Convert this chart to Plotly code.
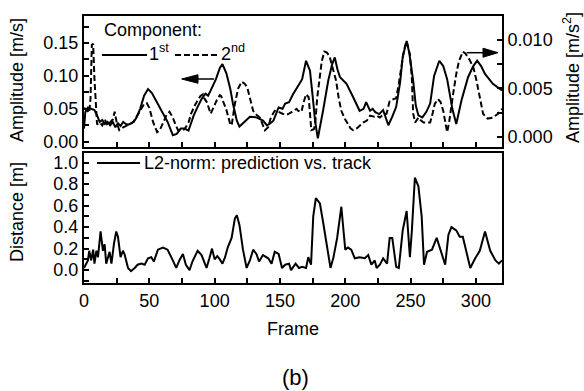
import plotly.graph_objects as go

# ---------------- data ----------------
frames_1st = [0, 1, 3, 6, 8, 10, 12, 14, 16, 18, 20, 22, 24, 26, 28, 30, 32, 34, 36, 38,
              40, 43, 46, 49, 52, 56, 60, 64, 68, 71, 74, 77, 80, 84, 87, 90, 93, 95, 97,
              101, 104, 106, 109, 112, 114, 117, 119, 123, 127, 132, 137, 140, 142, 145,
              149, 152, 154, 157, 160, 164, 167, 170, 173, 175, 177, 179, 181, 183, 187,
              190, 192, 194, 196, 201, 206, 209, 211, 214, 216, 219, 221, 223, 226, 229,
              231, 233, 236, 239, 242, 244, 247, 249, 252, 254, 256, 259, 262, 265, 268,
              272, 275, 278, 282, 285, 289, 294, 298, 301, 304, 307, 313, 320]
amp_1st = [0.020, 0.045, 0.052, 0.050, 0.048, 0.040, 0.030, 0.033, 0.027, 0.030, 0.025,
           0.030, 0.022, 0.028, 0.024, 0.030, 0.027, 0.026, 0.028, 0.030, 0.036, 0.050,
           0.070, 0.080, 0.074, 0.060, 0.045, 0.030, 0.010, 0.012, 0.020, 0.020, 0.017,
           0.040, 0.053, 0.065, 0.073, 0.070, 0.078, 0.095, 0.112, 0.118, 0.104, 0.080,
           0.058, 0.032, 0.023, 0.030, 0.038, 0.037, 0.032, 0.025, 0.027, 0.032, 0.052,
           0.050, 0.058, 0.060, 0.072, 0.085, 0.095, 0.123, 0.108, 0.070, 0.030, 0.005,
           0.025, 0.047, 0.093, 0.118, 0.128, 0.110, 0.098, 0.088, 0.068, 0.055, 0.047,
           0.050, 0.060, 0.047, 0.050, 0.045, 0.042, 0.048, 0.035, 0.025, 0.038, 0.053,
           0.090, 0.129, 0.153, 0.135, 0.093, 0.055, 0.040, 0.037, 0.045, 0.058, 0.100,
           0.123, 0.115, 0.095, 0.050, 0.027, 0.063, 0.098, 0.115, 0.123, 0.115, 0.103,
           0.088, 0.078]

frames_2nd = [0, 2, 4, 5, 6, 7, 8, 9, 10, 12, 14, 16, 18, 20, 22, 23.5, 25, 27, 30, 33,
              35, 38, 40, 43, 46, 48, 50, 53, 56, 58, 60, 63, 65.5, 68, 70, 72, 75, 77,
              80, 82, 85, 87, 89, 91, 92, 94, 96, 97, 99, 102, 104, 105, 107, 109, 112,
              113, 115.5, 118, 120.7, 123, 125, 127, 129.5, 132, 134.6, 137, 138.5, 141,
              143, 146, 149, 152, 155, 157, 160, 162.7, 164, 166.5, 168, 170, 172, 173,
              174, 176, 177, 178.5, 180.6, 182, 184, 186, 188, 190, 193, 195, 197, 200,
              202, 204, 206, 209, 211.5, 214, 216.6, 219, 222, 224, 226.5, 229, 231.6,
              234, 237, 239, 241, 243, 245, 247, 249.5, 251, 252, 253.5, 256, 258, 260,
              263, 265, 267, 268.5, 271, 273, 275, 277, 278, 279.5, 281, 283, 285, 287,
              290, 292, 295, 298, 300.5, 303, 305.5, 309, 313, 317, 320]
amp_2nd = [0.0030, 0.0028, 0.0025, 0.0040, 0.0095, 0.0096, 0.0060, 0.0030, 0.0013,
           0.0015, 0.0012, 0.0018, 0.0012, 0.0015, 0.0018, 0.0026, 0.0015, 0.0007,
           0.0010, 0.0012, 0.0013, 0.0016, 0.0020, 0.0027, 0.0034, 0.0035, 0.0030,
           0.0015, 0.0005, 0.0007, 0.0013, 0.0022, 0.0026, 0.0020, 0.0013, 0.0007,
           0.0007, 0.0008, 0.0015, 0.0024, 0.0033, 0.0037, 0.0042, 0.0044, 0.0040,
           0.0036, 0.0028, 0.0024, 0.0030, 0.0039, 0.0043, 0.0042, 0.0035, 0.0028,
           0.0013, 0.0012, 0.0034, 0.0050, 0.0057, 0.0055, 0.0051, 0.0040, 0.0027,
           0.0023, 0.0020, 0.0012, 0.0007, 0.0010, 0.0020, 0.0027, 0.0026, 0.0024,
           0.0023, 0.0024, 0.0027, 0.0029, 0.0027, 0.0026, 0.0035, 0.0044, 0.0041,
           0.0020, 0.0007, 0.0008, 0.0013, 0.0040, 0.0065, 0.0078, 0.0088, 0.0087,
           0.0083, 0.0072, 0.0058, 0.0040, 0.0027, 0.0018, 0.0013, 0.0009, 0.0007,
           0.0009, 0.0012, 0.0015, 0.0017, 0.0022, 0.0021, 0.0022, 0.0020, 0.0023,
           0.0024, 0.0037, 0.0039, 0.0040, 0.0055, 0.0075, 0.0090, 0.0099, 0.0085,
           0.0060, 0.0024, 0.0015, 0.0020, 0.0017, 0.0015, 0.0015, 0.0015, 0.0025,
           0.0034, 0.0039, 0.0036, 0.0027, 0.0010, 0.0005, 0.0015, 0.0031, 0.0048,
           0.0065, 0.0078, 0.0088, 0.0086, 0.0080, 0.0072, 0.0058, 0.0040, 0.0024,
           0.0019, 0.0020, 0.0024, 0.0029]

frames_l2 = [0, 2, 3, 4, 5.5, 7, 8, 9.5, 10.7, 12.7, 14.5, 15.8, 17, 19.6, 21, 23, 24.7,
             26, 28, 29.8, 31, 33.7, 36, 38.8, 41, 44, 46.4, 49, 51.5, 53.5, 56.6, 60.4,
             64, 68, 70.6, 73, 75.7, 78, 80.8, 83, 87, 90, 93.8, 96, 98, 100, 102, 104,
             106, 108, 110, 113, 115.5, 117, 119, 121.7, 124.5, 127, 129.5, 132, 134,
             137, 141, 143.6, 146, 149, 151.6, 154, 157, 158.5, 162, 164.6, 167, 170,
             171.7, 173.8, 175.5, 177.5, 180.6, 183, 186, 188.7, 191, 193.8, 197, 200,
             202, 204.6, 207.3, 211, 215, 217.6, 220, 222.6, 224, 226.5, 229, 232, 234,
             236, 239, 241, 244, 247, 249.5, 251, 253.3, 256, 258.5, 260.3, 262.6,
             266.4, 270, 273, 276.5, 279, 281.3, 285, 287.6, 290, 295.7, 299.5, 303,
             307, 311, 315, 317.6, 320]
dist_l2 = [0.02, 0.06, 0.09, 0.18, 0.09, 0.19, 0.06, 0.18, 0.12, 0.36, 0.18, 0.24, 0.06,
           0.17, 0.06, 0.25, 0.36, 0.31, 0.12, 0.18, 0.15, 0.02, -0.01, 0.02, 0.05, 0.06,
           0.05, 0.11, 0.12, 0.08, 0.19, 0.21, 0.19, 0.09, 0.02, 0.09, 0.15, 0.05, 0.00,
           0.08, 0.18, 0.14, 0.02, 0.11, 0.20, 0.10, 0.13, 0.10, 0.06, 0.12, 0.21, 0.30,
           0.48, 0.51, 0.42, 0.19, 0.02, 0.09, 0.19, 0.15, 0.08, 0.14, 0.11, 0.06, 0.17,
           0.15, 0.02, 0.05, 0.06, 0.00, 0.06, 0.02, 0.03, 0.02, 0.12, 0.05, 0.50, 0.67,
           0.62, 0.45, 0.21, 0.02, 0.12, 0.30, 0.59, 0.19, 0.21, 0.19, 0.11, 0.12, 0.11,
           0.14, 0.05, 0.09, 0.02, 0.05, 0.11, 0.06, 0.30, 0.30, 0.03, 0.02, 0.37, 0.55,
           0.12, 0.37, 0.86, 0.78, 0.50, 0.05, 0.17, 0.19, 0.30, 0.18, 0.05, 0.33, 0.40,
           0.37, 0.31, 0.31, 0.02, 0.11, 0.18, 0.36, 0.18, 0.09, 0.06, 0.09]

FONT = "Liberation Sans, Arial, sans-serif"

fig = go.Figure()
fig.add_trace(go.Scatter(x=frames_1st, y=amp_1st, mode="lines", xaxis="x2", yaxis="y2",
                         line=dict(color="black", width=2), showlegend=False))
fig.add_trace(go.Scatter(x=frames_2nd, y=amp_2nd, mode="lines", xaxis="x2", yaxis="y3",
                         line=dict(color="black", width=2, dash="6px,3px"), showlegend=False))
fig.add_trace(go.Scatter(x=frames_l2, y=dist_l2, mode="lines", xaxis="x", yaxis="y",
                         line=dict(color="black", width=2), showlegend=False))

axis_common = dict(showline=True, linecolor="black", linewidth=2, ticks="inside",
                   ticklen=5, tickwidth=1.5, tickcolor="black", showgrid=False,
                   zeroline=False, tickfont=dict(size=18, color="black", family=FONT))

TOP = [0.5094, 1.0]
BOT = [0.0, 0.4869]
Y2_RANGE = [-0.008, 0.191]
Y3_RANGE = [-0.00103, 0.01247]

fig.update_layout(
    width=584, height=391,
    margin=dict(l=84, r=82, t=16, b=108),
    paper_bgcolor="white", plot_bgcolor="white",
    font=dict(family=FONT, size=18, color="black"),
    xaxis=dict(**axis_common, domain=[0, 1], anchor="y", range=[0, 320], tick0=0, dtick=50,
               mirror=True,
               minor=dict(dtick=25, ticks="inside", ticklen=5, tickcolor="black", tickwidth=1.5)),
    xaxis2=dict(**axis_common, domain=[0, 1], anchor="y2", matches="x", range=[0, 320],
                tick0=0, dtick=50, showticklabels=False, mirror=True,
                minor=dict(dtick=25, ticks="inside", ticklen=5, tickcolor="black", tickwidth=1.5)),
    yaxis=dict(**axis_common, domain=BOT, anchor="x", range=[-0.12, 1.09], tick0=0, dtick=0.2,
               tickformat=".1f", mirror=True,
               minor=dict(dtick=0.1, ticks="inside", ticklen=5, tickcolor="black", tickwidth=1.5)),
    yaxis2=dict(**axis_common, domain=TOP, anchor="x2", range=Y2_RANGE, tick0=0,
                dtick=0.05, tickformat=".2f",
                minor=dict(dtick=0.025, ticks="inside", ticklen=5, tickcolor="black", tickwidth=1.5)),
    yaxis3=dict(**axis_common, domain=TOP, anchor="x2", overlaying="y2", side="right",
                range=Y3_RANGE, tick0=0, dtick=0.005, tickformat=".3f",
                minor=dict(dtick=0.0025, ticks="inside", ticklen=5, tickcolor="black", tickwidth=1.5)),
)

def ypix(py):
    return (283 - py) / 267.0

def xpix(px):
    return (px - 84) / 418.0

def fx(px):          # pixel -> frame (decorations only)
    return (px - 84) / 418.0 * 320

def v2(py):          # pixel -> left top-axis value (decorations only)
    return Y2_RANGE[1] - (py - 16) / 131.0 * (Y2_RANGE[1] - Y2_RANGE[0])

def v3(py):          # pixel -> right top-axis value (decorations only)
    return Y3_RANGE[1] - (py - 16) / 131.0 * (Y3_RANGE[1] - Y3_RANGE[0])

ann = []
ann.append(dict(text="Frame", xref="paper", yref="paper", x=0.5, y=ypix(329),
                xanchor="center", yanchor="middle", showarrow=False, font=dict(size=18)))
ann.append(dict(text="(b)", xref="paper", yref="paper", x=xpix(295), y=ypix(377),
                xanchor="center", yanchor="middle", showarrow=False, font=dict(size=22)))
ann.append(dict(text="Amplitude [m/s]", xref="paper", yref="paper", x=xpix(17), y=ypix(80),
                textangle=-90, xanchor="center", yanchor="middle", showarrow=False,
                font=dict(size=18)))
ann.append(dict(text="Distance [m]", xref="paper", yref="paper", x=xpix(17), y=ypix(212),
                textangle=-90, xanchor="center", yanchor="middle", showarrow=False,
                font=dict(size=18)))
ann.append(dict(text="Amplitude [m/s<sup>2</sup>]", xref="paper", yref="paper", x=xpix(571),
                y=ypix(78), textangle=-90, xanchor="center", yanchor="middle",
                showarrow=False, font=dict(size=18)))
ann.append(dict(text="Component:", xref="paper", yref="paper", x=xpix(102), y=ypix(30),
                xanchor="left", yanchor="middle", showarrow=False, font=dict(size=18)))
ann.append(dict(text="1<sup>st</sup>", xref="paper", yref="paper", x=xpix(147), y=ypix(52),
                xanchor="left", yanchor="middle", showarrow=False, font=dict(size=18)))
ann.append(dict(text="2<sup>nd</sup>", xref="paper", yref="paper", x=xpix(219), y=ypix(52),
                xanchor="left", yanchor="middle", showarrow=False, font=dict(size=18)))
ann.append(dict(text="L2-norm: prediction vs. track", xref="paper", yref="paper",
                x=xpix(142), y=ypix(163), xanchor="left", yanchor="middle",
                showarrow=False, font=dict(size=18)))
fig.update_layout(annotations=ann)

# left-pointing arrow (1st component -> left axis)
la_tip, la_base, la_tail, la_y, la_h = 181.7, 198.0, 214.0, 79.0, 4.3
# right-pointing arrow (2nd component -> right axis)
ra_tip, ra_base, ra_tail, ra_y, ra_h = 498.0, 483.0, 466.7, 52.7, 4.5

shapes = [
    dict(type="line", xref="paper", yref="paper", x0=xpix(102), x1=xpix(147),
         y0=ypix(55), y1=ypix(55), line=dict(color="black", width=2)),
    dict(type="line", xref="paper", yref="paper", x0=xpix(175), x1=xpix(217),
         y0=ypix(55), y1=ypix(55), line=dict(color="black", width=2, dash="6px,3px")),
    dict(type="line", xref="paper", yref="paper", x0=xpix(97), x1=xpix(140),
         y0=ypix(163), y1=ypix(163), line=dict(color="black", width=2)),
    # left arrow
    dict(type="line", xref="x2", yref="y2", x0=fx(la_base), x1=fx(la_tail),
         y0=v2(la_y), y1=v2(la_y), line=dict(color="black", width=1.5)),
    dict(type="path", xref="x2", yref="y2",
         path=f"M {fx(la_tip)},{v2(la_y)} L {fx(la_base)},{v2(la_y - la_h)} "
              f"L {fx(la_base)},{v2(la_y + la_h)} Z",
         fillcolor="black", line=dict(color="black", width=1)),
    # right arrow
    dict(type="line", xref="x2", yref="y3", x0=fx(ra_tail), x1=fx(ra_base),
         y0=v3(ra_y), y1=v3(ra_y), line=dict(color="black", width=1.5)),
    dict(type="path", xref="x2", yref="y3",
         path=f"M {fx(ra_tip)},{v3(ra_y)} L {fx(ra_base)},{v3(ra_y - ra_h)} "
              f"L {fx(ra_base)},{v3(ra_y + ra_h)} Z",
         fillcolor="black", line=dict(color="black", width=1)),
]
fig.update_layout(shapes=shapes)

fig.write_html("out.html", config={"displayModeBar": False},
               post_script="document.body.style.margin='0';document.body.style.overflow='hidden';")
